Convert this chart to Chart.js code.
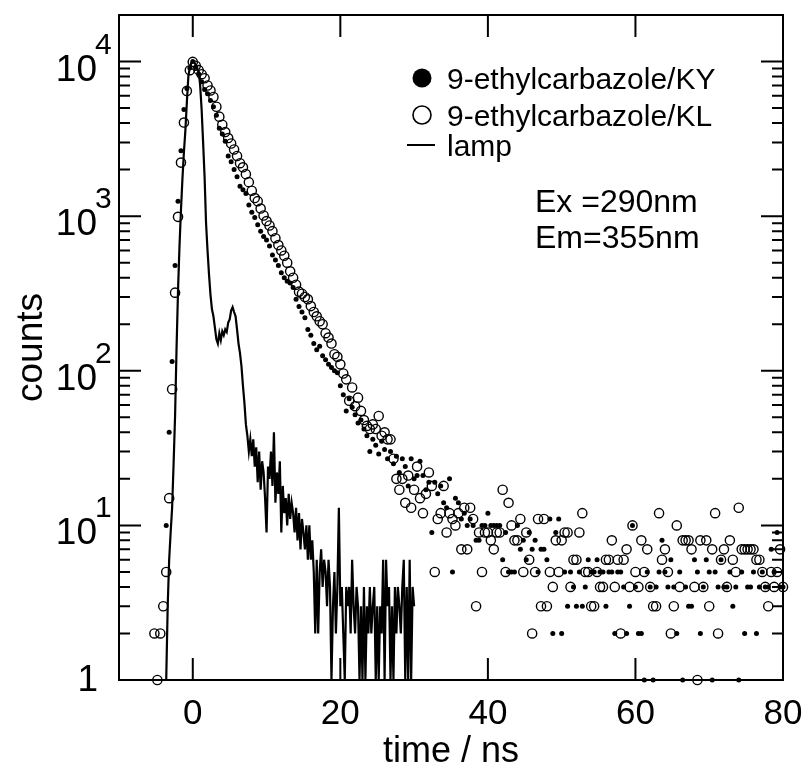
<!DOCTYPE html>
<html lang="en">
<head>
<meta charset="UTF-8">
<title>9-ethylcarbazole fluorescence decay</title>
<script src="https://cdn.jsdelivr.net/npm/chart.js"></script>
<style>
  html, body { margin: 0; padding: 0; background: #fff; }
  #wrap { width: 806px; height: 771px; }
</style>
</head>
<body>
<div id="wrap"><canvas id="decay" width="806" height="771"></canvas></div>
<script>
// channel timing (ns): sample decays and lamp profile
const sampleStart = -5.2, sampleStep = 0.4;
const lampStart = -4.0, lampStep = 0.2;

// 9-ethylcarbazole/KY (filled dots), counts per channel
const countsKY = [
  null, null, null, null, 10, 40, 115, 480, 1250, 2650,
  4900, 6700, 9100, 10000, 9200, 8300, 7400, 6600, 6200, 5600,
  5100, 4500, 3700, 3400, 3050, 2450, 2250, 2000, 1800, 1560,
  1480, 1400, 1180, 1060, 980, 880, 800, 740, 700, 640,
  560, 520, 480, 430, 400, 380, 370, 345, 290, 260,
  240, 220, 185, 170, 150, 137, 144, 125, 118, 110,
  105, 100, 97, 80, 70, 55, 66, 58, 52, 46,
  48, 42, 38, 30, 36, 33, 29, 35, 31, 27,
  30, 25, 28, 22, 27, 24, 18, 27, 20, 21,
  26, 21, 17, 19, 9, 19, 16, 18, 14, 13,
  20, 5, 15, 14, 11, 12, 10, 11, 10, 8,
  8, 10, 10, 12, 10, 10, 10, 10, 6, 9,
  5, 5, 5, 10, 7, 8, 6, 9, 7, 8,
  5, 7, 7, 6, 11, 2, 9, 11, 2, 5,
  3, 5, 4, 3, 5, 3, 4, 6, 5, 5,
  6, 5, 5, 3, 5, 5, 2, 5, 5, 4,
  2, 3, 10, 4, 2, 2, 1, 5, 4, 1,
  4, 5, 8, 5, 4, 6, 4, 2, 5, 1,
  4, 3, 3, 6, 5, 2, 4, 6, 5, 1,
  5, 4, 6, 4, 4, 5, 3, 4, 1, 5,
  2, 4, 4, 5, 2, 4, 5, 4, 4, 7,
  5, 9, 4, 4
];

// 9-ethylcarbazole/KL (open circles)
const countsKL = [
  2, 1, 2, 3, 5, 15, 76, 320, 990, 2220,
  4030, 6460, 8790, 9950, 9400, 8800, 8280, 7800, 7000, 6500,
  5900, 5100, 4400, 3900, 3500, 3200, 2950, 2700, 2450, 2200,
  2070, 1870, 1660, 1460, 1310, 1250, 1120, 1010, 930, 870,
  800, 720, 650, 600, 555, 500, 440, 400, 360, 325,
  315, 300, 290, 262, 240, 225, 209, 200, 175, 164,
  150, 128, 123, 110, 96, 88, 64, 78, 59, 67,
  55, 48, 44, 42, 45, 42, 51, 38, 40, 36,
  36, 27, 20, 17, 20, 14, 21, 13, 17, 24,
  15, 12, 16, 22, 18, 5, 11, 12, 18, 9,
  12, 11, 10, 12, 7, 13, 7, 13, 11, 3,
  9, 5, 9, 9, 8, 7, 9, 9, 17, 5,
  14, 10, 8, 8, 11, 5, 9, 6, 2, 5,
  11, 3, 11, 3, 5, 4, 8, 5, 8, 9,
  9, 4, 6, 6, 9, 12, 5, 5, 3, 3,
  5, 4, 4, 6, 6, 8, 4, 6, 2, 6,
  7, 4, 10, 5, 4, 8, 5, 7, 4, 3,
  3, 12, 6, 7, 5, 2, 3, 10, 4, 8,
  8, 8, 7, 4, 1, 8, 4, 8, 3, 7,
  12, 2, 6, 7, 4, 8, 6, 5, 13, 7,
  7, 7, 7, 7, 6, 6, 5, 4, 3, 5,
  4, 5, 7, 4
];

// lamp profile (line)
const countsLamp = [
  1, 1, 1, 3, 6, 9, 13, 25, 51, 140,
  330, 640, 1100, 1750, 2600, 3600, 5500, 8000, 9200, 9800,
  10000, 9900, 9500, 9000, 8700, 7000, 4900, 3000, 1800, 900,
  600, 420, 310, 250, 225, 190, 160, 150, 175, 158,
  180, 170, 185, 178, 205, 215, 245, 258, 240, 225,
  185, 150, 130, 107, 80, 62, 45, 38, 30, 36,
  28, 36, 24, 32, 19, 30, 17, 26, 22, 15,
  9, 24, 20, 30, 18, 40, 14, 22, 16, 26,
  9, 18, 12, 15, 10, 16, 11, 14, 12, 9,
  13, 8, 12, 7, 11, 9, 7, 10, 6, 10,
  6, 8, 5, 2, 6, 2, 5, 7, 4, 6,
  5, 3, 6, 4, 1, 3, 5, 2, 4, 13,
  3, 4, 2, 1, 4, 3, 4, 2, 6, 3,
  2, 4, 3, 1, 3, 1, 4, 1, 3, 2,
  4, 2, 3, 4, 1, 3, 1, 3, 2, 6,
  1, 6, 3, 4, 1, 3, 1, 4, 2, 4,
  3, 2, 4, 6, 1, 4, 1, 6, 1, 4,
  3
];

const xTickValues = [0, 20, 40, 60, 80];
const yExponents = [0, 1, 2, 3, 4];
const legendLabels = ["9-ethylcarbazole/KY", "9-ethylcarbazole/KL", "lamp"];
const noteLines = ["Ex =290nm", "Em=355nm"];

const FONT = '"Liberation Sans", Arial, Helvetica, sans-serif';

function toPoints(counts, start, step) {
  const pts = [];
  counts.forEach((c, i) => {
    if (c === null) return;
    pts.push({ x: Math.round((start + i * step) * 10) / 10, y: c });
  });
  return pts;
}

// frame, inward ticks, labels, legend and note
const axesPlugin = {
  id: "axesPlugin",
  afterDatasetsDraw(chart) {
    const { ctx, chartArea: a, scales: { x, y } } = chart;
    ctx.save();
    ctx.strokeStyle = "#000";
    ctx.fillStyle = "#000";
    ctx.lineWidth = 2;
    ctx.strokeRect(a.left, a.top, a.right - a.left, a.bottom - a.top);

    ctx.beginPath();
    xTickValues.forEach((v) => {
      if (v <= x.min || v >= x.max) return;
      const px = x.getPixelForValue(v);
      ctx.moveTo(px, a.bottom); ctx.lineTo(px, a.bottom - 22);
      ctx.moveTo(px, a.top); ctx.lineTo(px, a.top + 22);
    });
    yExponents.forEach((n) => {
      for (let m = 1; m <= 9; m++) {
        const v = m * Math.pow(10, n);
        if (v <= y.min || v >= y.max) continue;
        const py = y.getPixelForValue(v);
        const len = m === 1 ? 22 : 11;
        ctx.moveTo(a.left, py); ctx.lineTo(a.left + len, py);
        ctx.moveTo(a.right, py); ctx.lineTo(a.right - len, py);
      }
    });
    ctx.stroke();

    // x tick labels
    ctx.font = "35px " + FONT;
    ctx.textAlign = "center";
    ctx.textBaseline = "alphabetic";
    xTickValues.forEach((v) => {
      ctx.fillText(String(v), x.getPixelForValue(v), a.bottom + 44);
    });

    // y tick labels with superscript exponents
    yExponents.forEach((n) => {
      const py = y.getPixelForValue(Math.pow(10, n));
      ctx.textAlign = "right";
      ctx.font = "37px " + FONT;
      if (n === 0) {
        ctx.fillText("1", 98, py + 11);
        return;
      }
      ctx.fillText("10", 97, py + 19);
      ctx.textAlign = "left";
      ctx.font = "30px " + FONT;
      ctx.fillText(String(n), 95, py - 8);
    });

    // axis titles
    ctx.font = "36px " + FONT;
    ctx.textAlign = "center";
    ctx.fillText("time / ns", (a.left + a.right) / 2, 762);
    ctx.save();
    ctx.translate(42, (a.top + a.bottom) / 2);
    ctx.rotate(-Math.PI / 2);
    ctx.font = "37px " + FONT;
    ctx.fillText("counts", 0, 0);
    ctx.restore();

    // legend
    const rows = [78, 115, 145];
    ctx.beginPath();
    ctx.arc(422, rows[0], 9.5, 0, Math.PI * 2);
    ctx.fill();
    ctx.beginPath();
    ctx.lineWidth = 1.6;
    ctx.arc(422, rows[1], 9, 0, Math.PI * 2);
    ctx.stroke();
    ctx.beginPath();
    ctx.lineWidth = 2;
    ctx.moveTo(407, rows[2]); ctx.lineTo(435, rows[2]);
    ctx.stroke();
    ctx.font = "30px " + FONT;
    ctx.textAlign = "left";
    legendLabels.forEach((t, i) => ctx.fillText(t, 447, rows[i] + 10.5));

    // excitation / emission note
    ctx.font = "32px " + FONT;
    ctx.fillText(noteLines[0], 535, 212);
    ctx.fillText(noteLines[1], 535, 248);
    ctx.restore();
  }
};

new Chart(document.getElementById("decay"), {
  type: "scatter",
  data: {
    datasets: [
      {
        label: legendLabels[0],
        data: toPoints(countsKY, sampleStart, sampleStep),
        pointRadius: 2.5,
        pointBorderWidth: 0,
        backgroundColor: "#000",
        borderColor: "#000",
        clip: false,
        order: 1
      },
      {
        label: legendLabels[1],
        data: toPoints(countsKL, sampleStart, sampleStep),
        pointRadius: 4.6,
        pointBorderWidth: 1.4,
        backgroundColor: "rgba(0,0,0,0)",
        borderColor: "#000",
        clip: false,
        order: 2
      },
      {
        label: legendLabels[2],
        data: toPoints(countsLamp, lampStart, lampStep),
        showLine: true,
        pointRadius: 0,
        borderWidth: 2.2,
        borderColor: "#000",
        tension: 0,
        order: 3
      }
    ]
  },
  options: {
    responsive: false,
    animation: false,
    devicePixelRatio: 1,
    events: [],
    layout: { padding: { left: 119, right: 23, top: 15, bottom: 91 } },
    scales: {
      x: { type: "linear", min: -10, max: 80, bounds: "data", display: false },
      y: { type: "logarithmic", min: 1, max: 20000, display: false }
    },
    plugins: { legend: { display: false }, tooltip: { enabled: false } }
  },
  plugins: [axesPlugin]
});
</script>
</body>
</html>
